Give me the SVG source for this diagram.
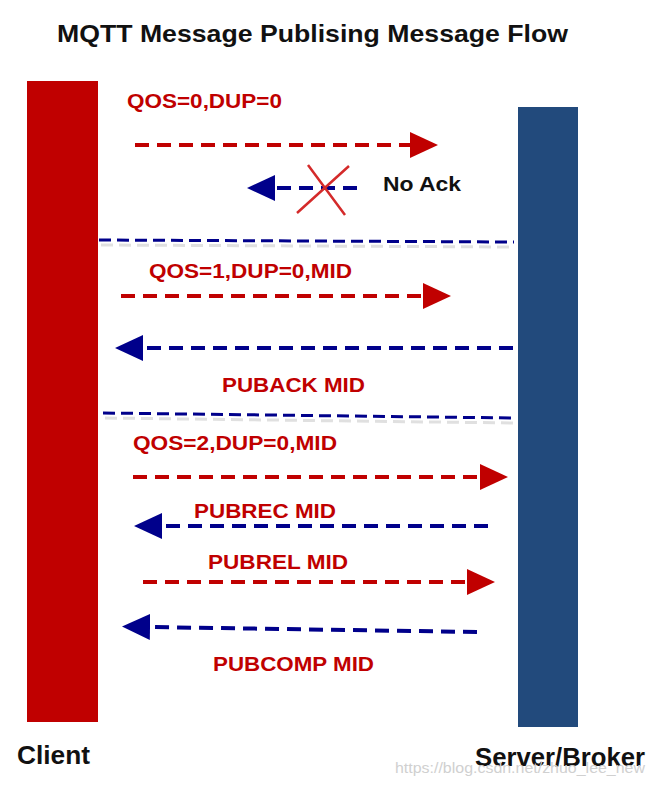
<svg xmlns="http://www.w3.org/2000/svg" width="653" height="785" viewBox="0 0 653 785">
<style>
.lbl{font-family:"Liberation Sans",Arial,sans-serif;font-weight:bold;font-size:20px;fill:#c00000}
.blk{font-family:"Liberation Sans",Arial,sans-serif;font-weight:bold;fill:#111}
.red{stroke:#c00000;stroke-width:4;fill:none;stroke-dasharray:14 8}
.blue{stroke:#00008b;stroke-width:4;fill:none;stroke-dasharray:14 8}
.sep{stroke:#00008b;stroke-width:3;fill:none;stroke-dasharray:12 6}
.shadow{stroke:#999;stroke-width:3;fill:none;stroke-dasharray:12 6;opacity:0.3}
</style>
<defs>
<marker id="hr" viewBox="0 0 28 26" markerWidth="28" markerHeight="26" markerUnits="userSpaceOnUse" refX="0" refY="13" orient="auto"><path d="M0,0 L28,13 L0,26 z" fill="#c00000"/></marker>
<marker id="hb" viewBox="0 0 28 26" markerWidth="28" markerHeight="26" markerUnits="userSpaceOnUse" refX="0" refY="13" orient="auto"><path d="M0,0 L28,13 L0,26 z" fill="#00008b"/></marker>
</defs>
<rect width="653" height="785" fill="#fff"/>
<text class="blk" x="57" y="42" font-size="24" textLength="511" lengthAdjust="spacingAndGlyphs">MQTT Message Publising Message Flow</text>
<g id="client"><rect x="27" y="81" width="71" height="641" fill="#c00000"/><text class="blk" x="17" y="764" font-size="25" textLength="73" lengthAdjust="spacingAndGlyphs">Client</text></g>
<g id="server"><rect x="518" y="107" width="60" height="620" fill="#224a7c"/><text class="blk" x="475" y="766" font-size="25" textLength="170" lengthAdjust="spacingAndGlyphs">Server/Broker</text></g>
<g id="connectors">
<path class="shadow" d="M101,245 L515,247"/>
<path class="shadow" d="M105,418 L515,423"/>
<path class="sep" d="M99,240 L514,242"/>
<path class="sep" d="M103,413 L514,418"/>
<path class="red" d="M135,145 L410,145" marker-end="url(#hr)"/>
<path class="blue" d="M357,188 L275,188" marker-end="url(#hb)"/>
<path d="M297,213 L349,166 M308,165 L345,215" stroke="#d42a2a" stroke-width="2.5"/>
<path class="red" d="M121,296 L423,296" marker-end="url(#hr)"/>
<path class="blue" d="M513,348 L143,348" marker-end="url(#hb)"/>
<path class="red" d="M133,477 L480,477" marker-end="url(#hr)"/>
<path class="blue" d="M488,526 L162,526" marker-end="url(#hb)"/>
<path class="red" d="M143,582 L467,582" marker-end="url(#hr)"/>
<path class="blue" d="M477,632 L150,627" marker-end="url(#hb)"/>
</g>
<g id="labels">
<text class="lbl" x="127" y="108" textLength="155" lengthAdjust="spacingAndGlyphs">QOS=0,DUP=0</text>
<text class="blk" x="383" y="191" font-size="20" textLength="78" lengthAdjust="spacingAndGlyphs">No Ack</text>
<text class="lbl" x="149" y="278" textLength="203" lengthAdjust="spacingAndGlyphs">QOS=1,DUP=0,MID</text>
<text class="lbl" x="222" y="392" textLength="143" lengthAdjust="spacingAndGlyphs">PUBACK MID</text>
<text class="lbl" x="133" y="450" textLength="204" lengthAdjust="spacingAndGlyphs">QOS=2,DUP=0,MID</text>
<text class="lbl" x="194" y="518" textLength="142" lengthAdjust="spacingAndGlyphs">PUBREC MID</text>
<text class="lbl" x="208" y="569" textLength="140" lengthAdjust="spacingAndGlyphs">PUBREL MID</text>
<text class="lbl" x="213" y="671" textLength="161" lengthAdjust="spacingAndGlyphs">PUBCOMP MID</text>
</g>
<text x="395" y="773" font-family="Liberation Sans,Arial,sans-serif" font-size="15" fill="#d0d0d0" textLength="250" lengthAdjust="spacingAndGlyphs">https://blog.csdn.net/zhuo_lee_new</text>
</svg>
